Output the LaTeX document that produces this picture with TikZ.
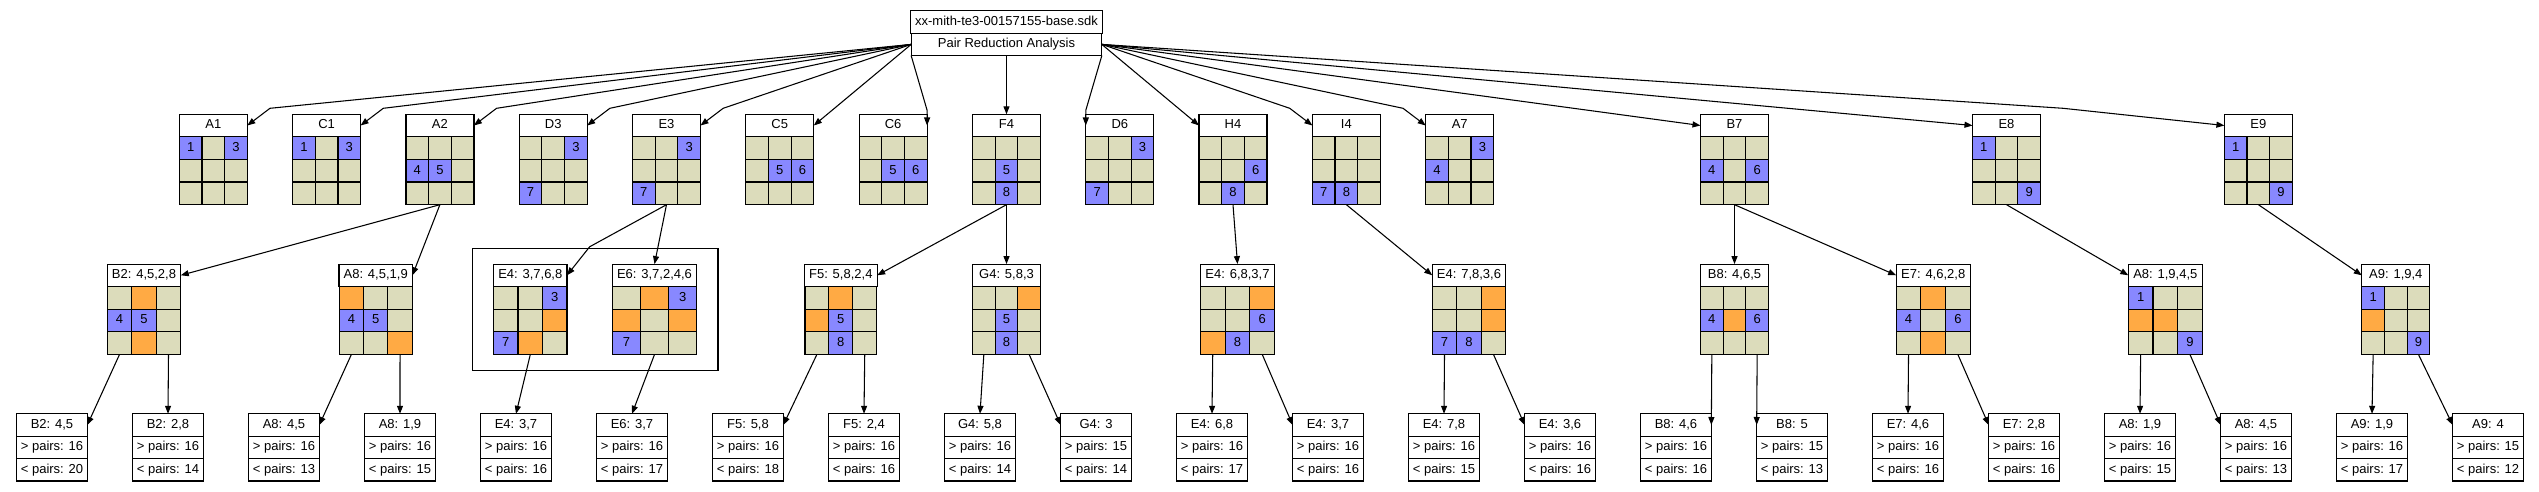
\documentclass[tikz,border=0pt]{standalone}
\usepackage{fontspec}
\setmainfont{Liberation Sans}
\usetikzlibrary{positioning,arrows.meta,fit}
\definecolor{cellgray}{HTML}{DCDCBB}
\definecolor{cellblue}{HTML}{8888FF}
\definecolor{cellorange}{HTML}{FFAA44}
\tikzset{>={Triangle[length=6pt,width=4.5pt]}}
\tikzset{
  head/.style={draw, fill=white, line width=0.9pt, minimum height=16.8pt, inner xsep=3.5pt, inner ysep=0pt, outer sep=0pt, text height=7pt, text depth=2pt, font=\fontsize{9.75}{11}\selectfont},
  cell/.style={draw, line width=0.9pt, minimum height=17pt, inner sep=0pt, outer sep=0pt, text height=7pt, text depth=2pt, font=\fontsize{9.75}{11}\selectfont},
  link/.style={->, line width=0.8pt},
}

\newcommand{\board}[5]{%
  \node[head, minimum width=#3*0.75pt] (#1) at #2 {#4};
  \foreach \val [count=\i] in {#5} {
    \pgfmathtruncatemacro\rowi{(\i-1)/3}
    \pgfmathtruncatemacro\coli{mod(\i-1,3)-1}
    \ifnum\val=0 \def\cfill{cellgray}\def\ctext{}\else
      \ifnum\val>9 \def\cfill{cellorange}\def\ctext{}\else
        \def\cfill{cellblue}\let\ctext\val\fi\fi
    \node[cell, fill=\cfill, minimum width=#3*0.25pt] (#1-\i)
      at ([xshift=\coli*#3*0.25pt, yshift=-(\rowi+0.5)*17pt]#1.south) {\ctext};
  }
}
\newcommand{\leaf}[5]{%
  \node[head, minimum width=53pt] (#1) at #2 {#3};
  \node[head, minimum width=53pt, below=0pt of #1] (#1-m) {> pairs: #4};
  \node[head, minimum width=53pt, below=0pt of #1-m] (#1-l) {< pairs: #5};
}

\begin{document}
\begin{tikzpicture}[x=0.75pt, y=-0.75pt]
    \useasboundingbox (0,0) rectangle (2539,492);

    \node[head, minimum width=143pt] (title) at (1006.5,22) {xx-mith-te3-00157155-base.sdk};
    \node[head, minimum width=143pt, below=0pt of title] (titleb) {Pair Reduction Analysis};

    \board{a1}{(213.3,125.5)}{68}{A1}{1,0,3,0,0,0,0,0,0}
    \board{c1}{(326.6,125.5)}{68}{C1}{1,0,3,0,0,0,0,0,0}
    \board{a2}{(439.9,125.5)}{68}{A2}{0,0,0,4,5,0,0,0,0}
    \board{d3}{(553.2,125.5)}{68}{D3}{0,0,3,0,0,0,7,0,0}
    \board{e3}{(666.5,125.5)}{68}{E3}{0,0,3,0,0,0,7,0,0}
    \board{c5}{(779.8,125.5)}{68}{C5}{0,0,0,0,5,6,0,0,0}
    \board{c6}{(893.1,125.5)}{68}{C6}{0,0,0,0,5,6,0,0,0}
    \board{f4}{(1006.5,125.5)}{68}{F4}{0,0,0,0,5,0,0,8,0}
    \board{d6}{(1119.8,125.5)}{68}{D6}{0,0,3,0,0,0,7,0,0}
    \board{h4}{(1233,125.5)}{68}{H4}{0,0,0,0,0,6,0,8,0}
    \board{i4}{(1346.4,125.5)}{68}{I4}{0,0,0,0,0,0,7,8,0}
    \board{a7}{(1459.7,125.5)}{68}{A7}{0,0,3,4,0,0,0,0,0}
    \board{b7}{(1734.5,125.5)}{68}{B7}{0,0,0,4,0,6,0,0,0}
    \board{e8}{(2006.5,125.5)}{68}{E8}{1,0,0,0,0,0,0,0,9}
    \board{e9}{(2258.4,125.5)}{68}{E9}{1,0,0,0,0,0,0,0,9}

    \board{b2p}{(144,275.3)}{73.5}{B2: 4,5,2,8}{0,10,0,4,5,0,0,10,0}
    \board{a8p}{(375.7,275.3)}{73}{A8: 4,5,1,9}{10,0,0,4,5,0,0,0,10}
    \board{e4p}{(530.3,275.3)}{73.4}{E4: 3,7,6,8}{0,0,3,0,0,10,7,10,0}
    \board{e6p}{(654.5,275.3)}{84.4}{E6: 3,7,2,4,6}{0,10,3,10,0,10,7,0,0}
    \board{f5p}{(840.8,275.3)}{71.8}{F5: 5,8,2,4}{0,10,0,10,5,0,0,8,0}
    \board{g4p}{(1006.5,275.3)}{68}{G4: 5,8,3}{0,0,10,0,5,0,0,8,0}
    \board{e4q}{(1237.5,275.3)}{74.3}{E4: 6,8,3,7}{0,0,10,0,0,6,10,8,0}
    \board{e4r}{(1469,275.3)}{73.5}{E4: 7,8,3,6}{0,0,10,0,0,10,7,8,0}
    \board{b8p}{(1734.5,275.3)}{68}{B8: 4,6,5}{0,0,0,4,10,6,0,0,0}
    \board{e7p}{(1933.2,275.3)}{74}{E7: 4,6,2,8}{0,10,0,4,0,6,0,10,0}
    \board{a8q}{(2165.3,275.3)}{74}{A8: 1,9,4,5}{1,0,0,10,10,0,0,0,9}
    \board{a9p}{(2395.8,275.3)}{68}{A9: 1,9,4}{1,0,0,10,0,0,0,0,9}

    \node[draw, line width=0.9pt, fit=(e4p) (e6p-9), inner xsep=16pt, inner ysep=12pt] (pair) {};

    \leaf{b2x}{(52,425)}{B2: 4,5}{16}{20}
    \leaf{b2y}{(168,425)}{B2: 2,8}{16}{14}
    \leaf{a8x}{(284,425)}{A8: 4,5}{16}{13}
    \leaf{a8y}{(400,425)}{A8: 1,9}{16}{15}
    \leaf{e4x}{(516,425)}{E4: 3,7}{16}{16}
    \leaf{e6x}{(632,425)}{E6: 3,7}{16}{17}
    \leaf{f5x}{(748,425)}{F5: 5,8}{16}{18}
    \leaf{f5y}{(864,425)}{F5: 2,4}{16}{16}
    \leaf{g4x}{(980,425)}{G4: 5,8}{16}{14}
    \leaf{g4y}{(1096,425)}{G4: 3}{15}{14}
    \leaf{e4qx}{(1212,425)}{E4: 6,8}{16}{17}
    \leaf{e4qy}{(1328,425)}{E4: 3,7}{16}{16}
    \leaf{e4rx}{(1444,425)}{E4: 7,8}{16}{15}
    \leaf{e4ry}{(1560,425)}{E4: 3,6}{16}{16}
    \leaf{b8x}{(1676,425)}{B8: 4,6}{16}{16}
    \leaf{b8y}{(1792,425)}{B8: 5}{15}{13}
    \leaf{e7x}{(1908,425)}{E7: 4,6}{16}{16}
    \leaf{e7y}{(2024,425)}{E7: 2,8}{16}{16}
    \leaf{a8qx}{(2140,425)}{A8: 1,9}{16}{15}
    \leaf{a8qy}{(2256,425)}{A8: 4,5}{16}{13}
    \leaf{a9x}{(2372,425)}{A9: 1,9}{16}{17}
    \leaf{a9y}{(2488,425)}{A9: 4}{15}{12}

    \foreach \n in {a1,c1,a2,d3,e3}
        \draw[link] (titleb.west) -- ([xshift=17pt,yshift=4.5pt]\n.north east) -- (\n.east);
    \draw[link] (titleb.west) -- (c5.east);
    \draw[link] (titleb.south west) -- ([yshift=3pt]c6.north east) -- (c6.east);
    \draw[link] (titleb.south) -- (f4.north);
    \draw[link] (titleb.south east) -- ([yshift=3pt]d6.north west) -- (d6.west);
    \draw[link] (titleb.east) -- (h4.west);
    \foreach \n in {i4,a7}
        \draw[link] (titleb.east) -- ([xshift=-17pt,yshift=4.5pt]\n.north west) -- (\n.west);
    \draw[link] (titleb.east) -- (b7.west);
    \draw[link] (titleb.east) -- (e8.west);
    \draw[link] (titleb.east) -- ([xshift=-121pt,yshift=4.5pt]e9.north west) -- (e9.west);

    \draw[link] (e3-8.south) -- ([xshift=17pt,yshift=13pt]e4p.north east) -- (e4p.east);
    \foreach \a/\b in {a2-8/b2p.east, a2-8/a8p.east, e3-8/e6p.north, f4-8/f5p.east, f4-8/g4p.north,
        h4-8/e4q.north, i4-8/e4r.west, b7-8/b8p.north, b7-8/e7p.west, e8-8/a8q.west, e9-8/a9p.west}
        \draw[link] (\a.south) -- (\b);

    \foreach \a/\b in {b2p-7/b2x.east, b2p-9/b2y.north, a8p-7/a8x.east, a8p-9/a8y.north,
        e4p-8/e4x.north, e6p-8/e6x.north, f5p-7/f5x.east, f5p-9/f5y.north,
        g4p-7/g4x.north, g4p-9/g4y.west, e4q-7/e4qx.north, e4q-9/e4qy.west,
        e4r-7/e4rx.north, e4r-9/e4ry.west, b8p-7/b8x.east, b8p-9/b8y.west,
        e7p-7/e7x.north, e7p-9/e7y.west, a8q-7/a8qx.north, a8q-9/a8qy.west,
        a9p-7/a9x.north, a9p-9/a9y.west}
        \draw[link] (\a.south) -- (\b);
\end{tikzpicture}
\end{document}
